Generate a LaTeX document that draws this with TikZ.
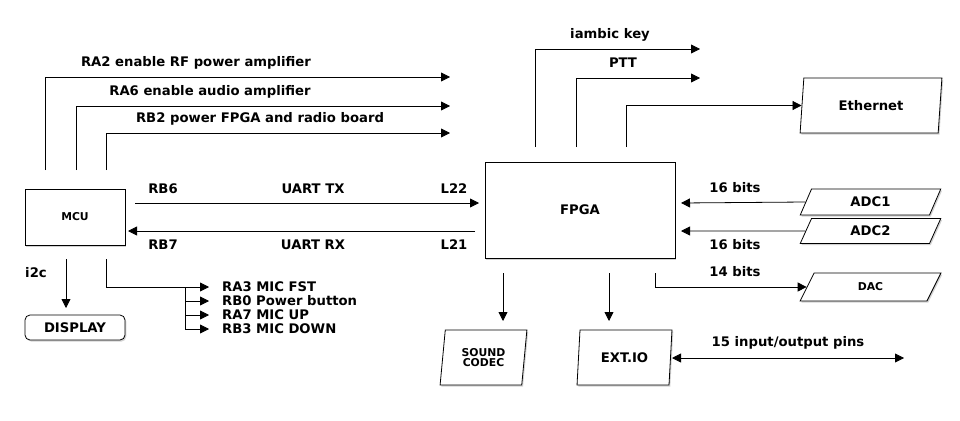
\documentclass[tikz,border=0pt]{standalone}
\usepackage{fontspec}
\setmainfont{DejaVu Sans}
\usetikzlibrary{arrows.meta,shapes.geometric,shadows}
\begin{document}
\begin{tikzpicture}[x=1pt,y=-1pt,
  lbl/.style={font=\bfseries\fontsize{13.2}{15}\selectfont, inner sep=0pt},
  sml/.style={font=\bfseries\fontsize{10.8}{12.5}\selectfont},
  box/.style={draw, line width=0.8pt, fill=white, inner sep=0pt,
    drop shadow={shadow xshift=1.3pt, shadow yshift=-1.6pt, opacity=0.35}},
  para/.style={box, trapezium, trapezium stretches=true,
    trapezium left angle=#1, trapezium right angle=180-#1},
  ln/.style={line width=0.8pt},
  arr/.style={ln, -{Triangle[length=9pt,width=9pt]}},
  darr/.style={ln, {Triangle[length=9pt,width=9pt]}-{Triangle[length=9pt,width=9pt]}}
]
\useasboundingbox[fill=white] (0,0) rectangle (960,420);

% ---- nodes
\node[box, sml, minimum width=100, minimum height=56] (mcu) at (75,217) {MCU};
\node[box, lbl, minimum width=190, minimum height=96] (fpga) at (580,210) {FPGA};
\node[box, lbl, rounded corners=5pt, minimum width=100, minimum height=25] (disp) at (75,327.5) {DISPLAY};
\node[para=80, lbl, minimum width=142, minimum height=55] (eth) at (871,105.5) {Ethernet};
\node[para=69, lbl, minimum width=141, minimum height=26] (adc1) at (870.5,202) {ADC1};
\node[para=69, lbl, minimum width=141, minimum height=25] (adc2) at (870.5,231) {ADC2};
\node[para=69, sml, minimum width=141, minimum height=28] (dac) at (870.5,287) {DAC};
\node[para=81, sml, align=center, minimum width=87, minimum height=55] (codec) at (483.5,357.5) {SOUND\\[-2pt]CODEC};
\node[para=81, lbl, minimum width=95, minimum height=55] (extio) at (624.5,357.5) {EXT.IO};

% ---- coordinates
\coordinate (m1) at (45,170);  \coordinate (e1) at (450,77);
\coordinate (m2) at (76,170);  \coordinate (e2) at (450,106);
\coordinate (m3) at (106,170); \coordinate (e3) at (450,133);
\coordinate (tx0) at (135,203); \coordinate (tx1) at (479,203);
\coordinate (rx0) at (475,231); \coordinate (rx1) at (128,231);
\coordinate (i0) at (66,259);  \coordinate (i1) at (66,308);
\coordinate (r0) at (106,259);
\coordinate (j1) at (185,287); \coordinate (t1) at (209,287);
\coordinate (j2) at (185,301); \coordinate (t2) at (209,301);
\coordinate (j3) at (185,315); \coordinate (t3) at (209,315);
\coordinate (j4) at (185,329); \coordinate (t4) at (209,329);
\coordinate (f1) at (535,147); \coordinate (g1) at (700,49);
\coordinate (f2) at (576,147); \coordinate (g2) at (700,78);
\coordinate (f3) at (626,147);
\coordinate (a1) at (681,203); \coordinate (a2) at (681,231);
\coordinate (d0) at (655,273);
\coordinate (c0) at (503,273); \coordinate (c1) at (503,321);
\coordinate (x0) at (609,273); \coordinate (x1) at (609,321);
\coordinate (p0) at (672,358); \coordinate (p1) at (904,358);

% ---- connectors
\draw[arr] (m1) |- (e1);
\draw[arr] (m2) |- (e2);
\draw[arr] (m3) |- (e3);
\draw[arr] (tx0) -- (tx1);
\draw[arr] (rx0) -- (rx1);
\draw[arr] (i0) -- (i1);
\draw[ln] (r0) |- (j1) -- (j4);
\draw[arr] (j1) -- (t1);
\draw[arr] (j2) -- (t2);
\draw[arr] (j3) -- (t3);
\draw[arr] (j4) -- (t4);
\draw[arr] (f1) |- (g1);
\draw[arr] (f2) |- (g2);
\draw[arr] (f3) |- (eth.west);
\draw[arr] (adc1.west) -- (a1);
\draw[arr] (adc2.west) -- (a2);
\draw[arr] (d0) |- (dac.west);
\draw[arr] (c0) -- (c1);
\draw[arr] (x0) -- (x1);
\draw[darr] (p0) -- (p1);

% ---- labels
\node[lbl] (l1) at (196,63) {RA2 enable RF power amplifier};
\node[lbl] (l2) at (210,92) {RA6 enable audio amplifier};
\node[lbl] (l3) at (260,119) {RB2 power FPGA and radio board};
\node[lbl] (l4) at (163,189) {RB6};
\node[lbl] (l5) at (313,189) {UART TX};
\node[lbl] (l6) at (454,189) {L22};
\node[lbl] (l7) at (163,245) {RB7};
\node[lbl] (l8) at (313,245) {UART RX};
\node[lbl] (l9) at (454,245) {L21};
\node[lbl] (l10) at (36,273) {i2c};
\node[lbl, anchor=west] (l11) at (222,287) {RA3 MIC FST};
\node[lbl, anchor=west] (l12) at (222,301) {RB0 Power button};
\node[lbl, anchor=west] (l13) at (222,315) {RA7 MIC UP};
\node[lbl, anchor=west] (l14) at (222,329) {RB3 MIC DOWN};
\node[lbl] (l15) at (610,35) {iambic key};
\node[lbl] (l16) at (623,63) {PTT};
\node[lbl] (l17) at (735,188) {16 bits};
\node[lbl] (l18) at (735,245) {16 bits};
\node[lbl] (l19) at (735,272) {14 bits};
\node[lbl] (l20) at (788,343) {15 input/output pins};
\end{tikzpicture}
\end{document}
